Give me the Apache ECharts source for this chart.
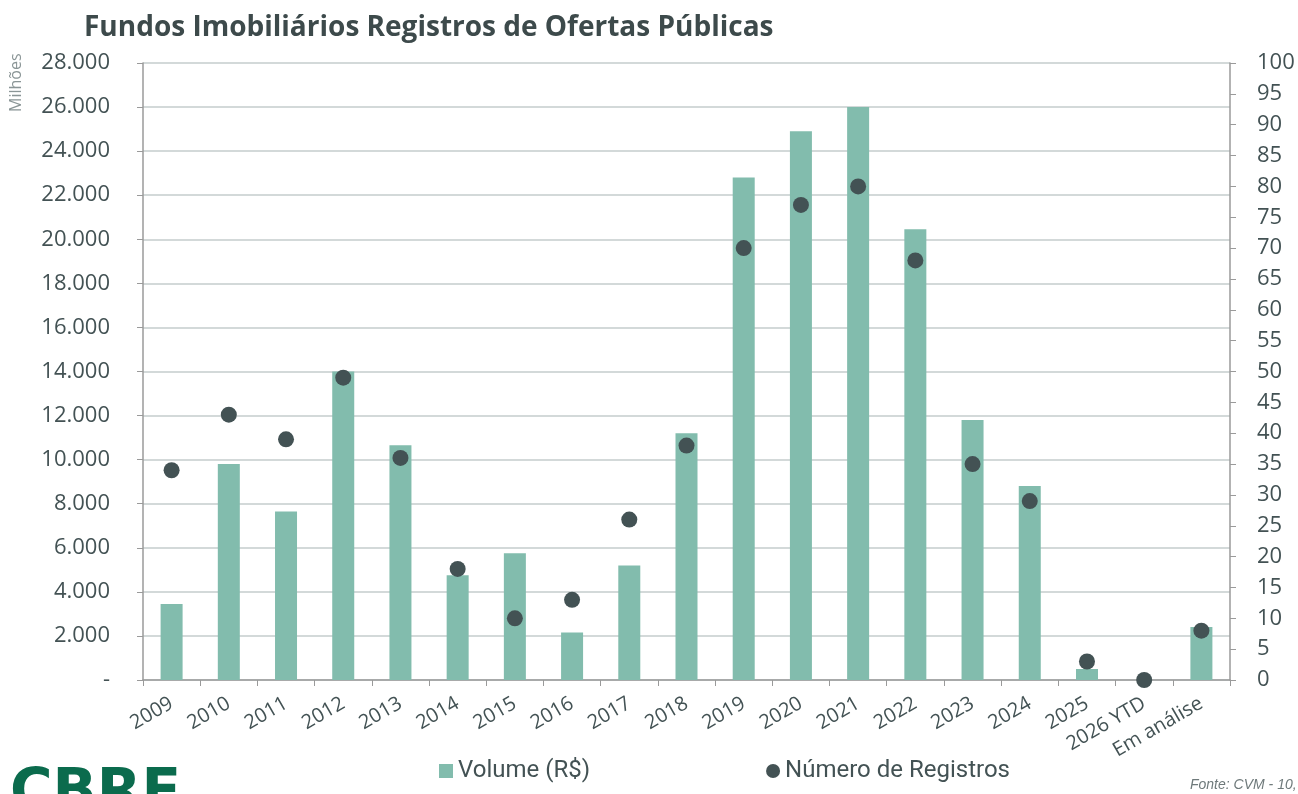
<!DOCTYPE html>
<html>
<head>
<meta charset="utf-8">
<script src="https://cdn.jsdelivr.net/npm/echarts@6/dist/echarts.min.js"></script>
<style>
html,body{margin:0;padding:0;background:#fff;}
#chart{width:1298px;height:794px;}
</style>
</head>
<body>
<div id="chart"></div>
<script>
const categories=['2009','2010','2011','2012','2013','2014','2015','2016','2017','2018','2019','2020','2021','2022','2023','2024','2025','2026 YTD','Em análise'];
const volume=[3450,9800,7650,14000,10650,4750,5750,2150,5200,11200,22800,24900,26000,20450,11800,8800,500,0,2400];
const registros=[34,43,39,49,36,18,10,13,26,38,70,77,80,68,35,29,3,0,8];

const textColor='#435254';
const barColor='#82bcad';
const dotColor='#435254';
const axisColor='#9a9a9a';
const fontFam='"Open Sans", sans-serif';

const fmtThousands=(v)=>v===0?'-':String(v).replace(/\B(?=(\d{3})+(?!\d))/g,'.');

var myChart=echarts.init(document.getElementById('chart'));
var option={
    backgroundColor:'#fff',
    animation:false,
    title:{
        text:'Fundos Imobiliários Registros de Ofertas Públicas',
        left:79,
        top:9,
        textStyle:{
            fontFamily:fontFam,
            fontSize:28,
            fontWeight:'bold',
            color:'#3d4a4b'
        }
    },
    grid:{
        left:143,
        right:68,
        top:63,
        bottom:114
    },
    legend:{
        bottom:6,
        left:434,
        itemGap:176,
        itemWidth:14,
        itemHeight:14,
        textStyle:{
            fontFamily:'Roboto, sans-serif',
            fontSize:24,
            color:textColor
        },
        data:[
            {name:'Volume (R$)',icon:'rect'},
            {name:'Número de Registros',icon:'circle'}
        ]
    },
    xAxis:{
        type:'category',
        data:categories,
        axisLine:{lineStyle:{color:axisColor,width:1.5}},
        axisTick:{show:true,alignWithLabel:false,length:6,lineStyle:{color:axisColor}},
        axisLabel:{
            rotate:30,
            interval:0,
            margin:22,
            fontFamily:fontFam,
            fontSize:20,
            color:textColor
        }
    },
    yAxis:[{
        type:'value',
        min:0,
        max:28000,
        interval:2000,
        axisLine:{show:true,lineStyle:{color:axisColor,width:1.5}},
        axisTick:{show:true,length:6,lineStyle:{color:axisColor}},
        splitLine:{lineStyle:{color:'#d3d9d9',width:2}},
        axisLabel:{
            formatter:fmtThousands,
            margin:33,
            fontFamily:fontFam,
            fontSize:22,
            color:textColor
        }
    },{
        type:'value',
        min:0,
        max:100,
        interval:5,
        position:'right',
        axisLine:{show:true,lineStyle:{color:axisColor,width:1.5}},
        axisTick:{show:true,length:6,lineStyle:{color:axisColor}},
        splitLine:{show:false},
        axisLabel:{
            margin:27,
            fontFamily:fontFam,
            fontSize:22,
            color:textColor
        }
    }],
    series:[{
        name:'Volume (R$)',
        type:'bar',
        yAxisIndex:0,
        barWidth:22,
        itemStyle:{color:barColor},
        data:volume
    },{
        name:'Número de Registros',
        type:'scatter',
        yAxisIndex:1,
        symbol:'circle',
        symbolSize:16,
        itemStyle:{color:dotColor,opacity:1},
        data:registros
    }],
    graphic:[{
        type:'text',
        x:8,
        y:112,
        rotation:Math.PI/2,
        style:{
            text:'Milhões',
            fontFamily:fontFam,
            fontSize:16,
            fill:'#8a9596'
        }
    },{
        type:'text',
        left:10,
        top:766,
        style:{
            text:'CBRE',
            fontFamily:'"DejaVu Sans", sans-serif',
            fontWeight:'bold',
            fontSize:58,
            fill:'#0b6b4d'
        }
    },{
        type:'text',
        left:1190,
        top:778,
        style:{
            text:'Fonte: CVM - 10,',
            fontFamily:'"Liberation Sans", sans-serif',
            fontStyle:'italic',
            fontSize:14,
            fill:'#6f7a7b'
        }
    }]
};
myChart.setOption(option);
</script>
</body>
</html>
